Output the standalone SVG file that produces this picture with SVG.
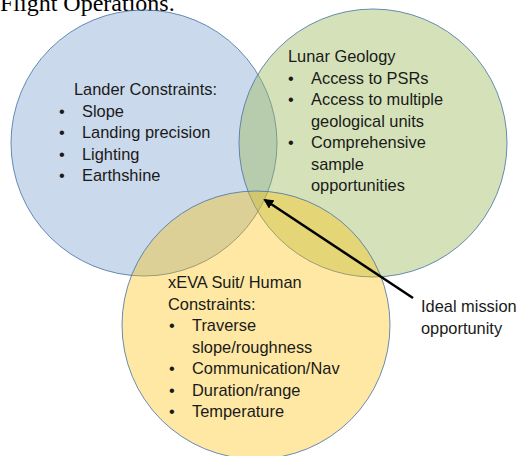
<svg xmlns="http://www.w3.org/2000/svg" width="518" height="456" viewBox="0 0 518 456">
<style>
.c{stroke:#4f78a8;stroke-width:1;stroke-opacity:0.85}
.t{font-family:"Liberation Sans",Arial,sans-serif;font-size:16.4px;fill:#1a1a1a}
.title{font-family:"Liberation Serif","Times New Roman",serif;font-size:24px;fill:#000}
</style>
<defs>
<marker id="ah" markerWidth="10" markerHeight="10" refX="8" refY="5" orient="auto" markerUnits="userSpaceOnUse">
<path d="M0,0 L10,5 L0,10 Z" fill="#000"/>
</marker>
</defs>
<rect width="518" height="456" fill="#fff"/>
<text class="title" x="0" y="11">Flight Operations.</text>
<g id="lander">
<circle class="c" cx="144" cy="143" r="133" fill="#4f81bd" fill-opacity="0.3"/>
</g>
<g id="geology">
<circle class="c" cx="373" cy="143" r="134" fill="#9bbb59" fill-opacity="0.42"/>
</g>
<g id="human">
<circle class="c" cx="256" cy="325" r="134" fill="#ffc000" fill-opacity="0.36"/>
</g>
<g id="lander-text" class="t">
<text x="74" y="95">Lander Constraints:</text>
<text x="59" y="116.5">•</text><text x="82" y="116.5">Slope</text>
<text x="59" y="138">•</text><text x="82" y="138">Landing precision</text>
<text x="59" y="159.5">•</text><text x="82" y="159.5">Lighting</text>
<text x="59" y="181">•</text><text x="82" y="181">Earthshine</text>
</g>
<g id="geology-text" class="t">
<text x="288" y="62">Lunar Geology</text>
<text x="288" y="83.5">•</text><text x="311" y="83.5">Access to PSRs</text>
<text x="288" y="105">•</text><text x="311" y="105">Access to multiple</text>
<text x="311" y="126.5">geological units</text>
<text x="288" y="148">•</text><text x="311" y="148">Comprehensive</text>
<text x="311" y="169.5">sample</text>
<text x="311" y="191">opportunities</text>
</g>
<g id="human-text" class="t">
<text x="168" y="288">xEVA Suit/ Human</text>
<text x="168" y="309.5">Constraints:</text>
<text x="169" y="331">•</text><text x="192" y="331">Traverse</text>
<text x="192" y="352.5">slope/roughness</text>
<text x="169" y="374">•</text><text x="192" y="374">Communication/Nav</text>
<text x="169" y="395.5">•</text><text x="192" y="395.5">Duration/range</text>
<text x="169" y="417">•</text><text x="192" y="417">Temperature</text>
</g>
<g id="ideal" class="t">
<text x="421" y="312">Ideal mission</text>
<text x="421" y="333.5">opportunity</text>
</g>
<g id="connectors">
<line x1="413" y1="298" x2="265" y2="200" stroke="#000" stroke-width="2.5" marker-end="url(#ah)"/>
</g>
</svg>
